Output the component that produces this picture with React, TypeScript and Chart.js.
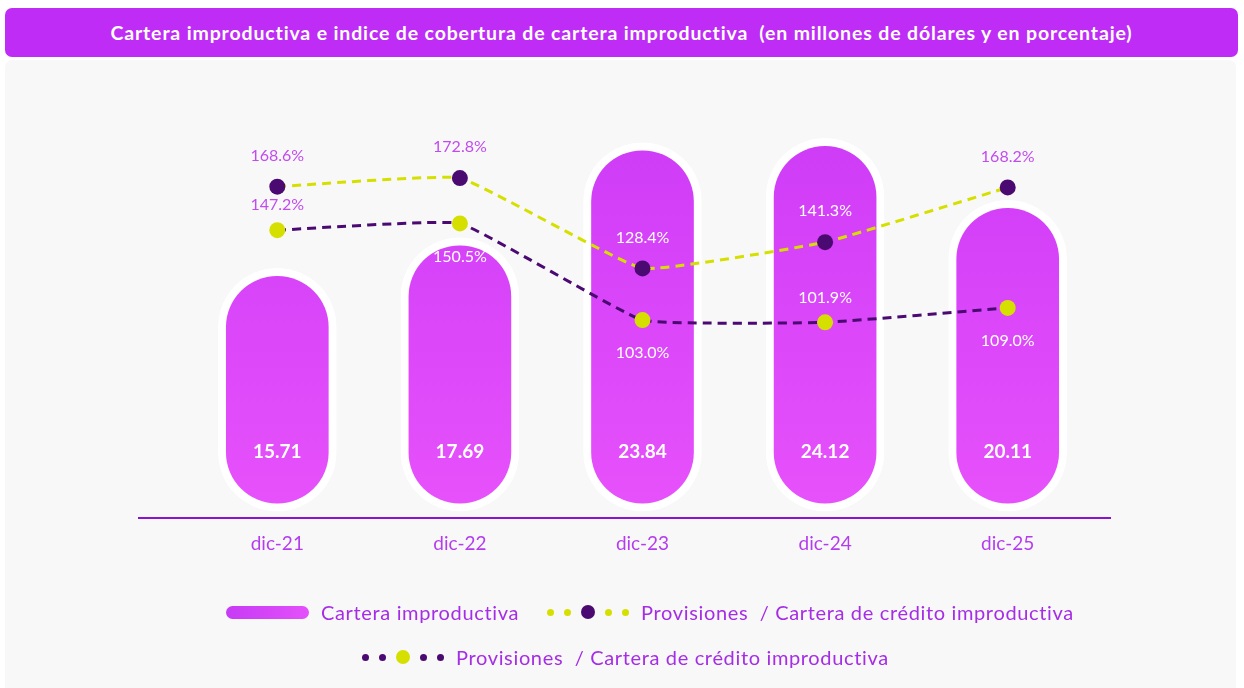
import React, { useEffect, useRef } from "react";
import { Chart, registerables } from "chart.js";

Chart.register(...registerables);

const title =
  "Cartera improductiva e indice de cobertura de cartera improductiva  (en millones de dólares y en porcentaje)";
const categories = ["dic-21", "dic-22", "dic-23", "dic-24", "dic-25"];
const carteraImproductiva = [15.71, 17.69, 23.84, 24.12, 20.11];
const coberturaA = [168.6, 172.8, 128.4, 141.3, 168.2];
const coberturaB = [147.2, 150.5, 103.0, 101.9, 109.0];
const labelPosA = ["top", "top", "top", "top", "top"];
const labelPosB = ["top", "bottom", "bottom", "top", "bottom"];
const seriesNames = [
  "Cartera improductiva",
  "Provisiones  / Cartera de crédito improductiva",
  "Provisiones  / Cartera de crédito improductiva",
];

const DARK = "#4A0A72";
const LIME = "#D6E000";
const LABEL_PURPLE = "#C24BEF";
const AXIS_PURPLE = "#8B12CF";
const TEXT_PURPLE = "#A52DE6";
const FONT = "Lato, 'Open Sans', sans-serif";

const labelPlugin = {
  id: "customLabels",
  beforeDatasetsDraw(chart: any) {
    const { ctx, chartArea } = chart;
    ctx.save();
    ctx.strokeStyle = AXIS_PURPLE;
    ctx.lineWidth = 2;
    ctx.beginPath();
    ctx.moveTo(chartArea.left - 48, chartArea.bottom);
    ctx.lineTo(chartArea.right + 12, chartArea.bottom);
    ctx.stroke();
    ctx.restore();
  },
  afterDatasetsDraw(chart: any) {
    const c = chart.ctx;
    const barMeta = chart.getDatasetMeta(0);
    c.save();
    c.textAlign = "center";
    c.textBaseline = "middle";
    c.font = `bold 19px ${FONT}`;
    c.fillStyle = "#ffffff";
    barMeta.data.forEach((bar: any, i: number) => {
      c.fillText(carteraImproductiva[i].toFixed(2), bar.x, bar.base - 59);
    });
    c.font = `16px ${FONT}`;
    const series = [
      { di: 1, vals: coberturaA, pos: labelPosA, up: -31, down: 31 },
      { di: 2, vals: coberturaB, pos: labelPosB, up: -25, down: 33 },
    ];
    series.forEach((s) => {
      const meta = chart.getDatasetMeta(s.di);
      meta.data.forEach((pt: any, i: number) => {
        const y = pt.y + (s.pos[i] === "top" ? s.up : s.down);
        const bar = barMeta.data[i];
        const innerTop = bar.y + 8;
        c.fillStyle = y > innerTop + 4 ? "#ffffff" : LABEL_PURPLE;
        c.fillText(s.vals[i].toFixed(1) + "%", pt.x, y);
      });
    });
    c.restore();
  },
};

function Dot({ r, color }: { r: number; color: string }) {
  return (
    <span
      style={{
        display: "inline-block",
        width: r * 2,
        height: r * 2,
        borderRadius: "50%",
        background: color,
      }}
    />
  );
}

export default function App() {
  const canvasRef = useRef<HTMLCanvasElement | null>(null);

  useEffect(() => {
    const canvas = canvasRef.current;
    if (!canvas) return;
    const chart = new Chart(canvas, {
      type: "bar",
      data: {
        labels: categories,
        datasets: [
          {
            type: "bar",
            label: seriesNames[0],
            data: carteraImproductiva,
            yAxisID: "y",
            order: 3,
            barThickness: 118,
            borderWidth: 8,
            borderColor: "#ffffff",
            borderRadius: 59,
            borderSkipped: false,
            backgroundColor: (ctx: any) => {
              const { chart } = ctx;
              const area = chart.chartArea;
              if (!area) return "#D845F9";
              const g = chart.ctx.createLinearGradient(0, area.top + 60, 0, area.bottom);
              g.addColorStop(0, "#CF3CF7");
              g.addColorStop(1, "#E752FB");
              return g;
            },
          } as any,
          {
            type: "line",
            label: seriesNames[1],
            data: coberturaA,
            yAxisID: "y1",
            order: 1,
            borderColor: LIME,
            borderWidth: 3,
            borderDash: [9, 6],
            tension: 0.1,
            pointRadius: 8,
            pointBorderWidth: 0,
            pointBackgroundColor: DARK,
            pointBorderColor: DARK,
            fill: false,
          } as any,
          {
            type: "line",
            label: seriesNames[2],
            data: coberturaB,
            yAxisID: "y1",
            order: 2,
            borderColor: DARK,
            borderWidth: 3,
            borderDash: [9, 6],
            tension: 0.1,
            pointRadius: 8,
            pointBorderWidth: 0,
            pointBackgroundColor: LIME,
            pointBorderColor: LIME,
            fill: false,
          } as any,
        ],
      },
      options: {
        responsive: false,
        maintainAspectRatio: false,
        animation: false,
        layout: { padding: { left: 186, right: 145, top: 80, bottom: 120 } },
        plugins: {
          legend: { display: false },
          title: { display: false },
          tooltip: { enabled: false },
        },
        scales: {
          x: {
            offset: true,
            grid: { display: false, drawTicks: false },
            border: { display: false },
            ticks: {
              color: "#B43CEF",
              padding: 14,
              font: { family: FONT, size: 19 },
            },
            afterFit: (scale: any) => {
              scale.height = 50;
            },
          },
          y: {
            display: false,
            min: -0.45,
            max: 27.9,
          },
          y1: {
            display: false,
            min: 5.75,
            max: 221,
          },
        },
      } as any,
      plugins: [labelPlugin],
    });
    return () => chart.destroy();
  }, []);

  const legendText: React.CSSProperties = {
    fontFamily: FONT,
    fontSize: 20,
    letterSpacing: 0.65,
    color: TEXT_PURPLE,
    whiteSpace: "pre",
    lineHeight: "22px",
  };

  return (
    <div
      style={{
        position: "fixed",
        left: 0,
        top: 0,
        width: 1244,
        height: 688,
        background: "#ffffff",
        overflow: "hidden",
      }}
    >
      <div
        style={{
          position: "absolute",
          left: 5,
          top: 8,
          width: 1233,
          height: 49,
          background: "#BE2CF6",
          borderRadius: 7,
          display: "flex",
          alignItems: "center",
          justifyContent: "center",
          color: "#ffffff",
          fontFamily: FONT,
          fontWeight: 700,
          fontSize: 19.5,
          letterSpacing: 0.85,
          whiteSpace: "pre",
        }}
      >
        {title}
      </div>
      <div
        style={{
          position: "absolute",
          left: 5,
          top: 60,
          width: 1231,
          height: 640,
          background: "#F8F8F8",
          borderRadius: 7,
        }}
      />
      <canvas
        ref={canvasRef}
        width={1244}
        height={688}
        style={{ position: "absolute", left: 0, top: 0, width: 1244, height: 688 }}
      />
      <div
        style={{
          position: "absolute",
          left: 226,
          top: 601,
          height: 22,
          display: "flex",
          alignItems: "center",
        }}
      >
        <span
          style={{
            display: "inline-block",
            width: 83,
            height: 13,
            borderRadius: 7,
            background: "linear-gradient(90deg, #C63BF5, #E450FA)",
            marginRight: 12,
          }}
        />
        <span style={legendText}>{seriesNames[0]}</span>
        <span style={{ display: "inline-flex", alignItems: "center", gap: 10, marginLeft: 28, marginRight: 12 }}>
          <Dot r={3.5} color={LIME} />
          <Dot r={3.5} color={LIME} />
          <Dot r={7} color={DARK} />
          <Dot r={3.5} color={LIME} />
          <Dot r={3.5} color={LIME} />
        </span>
        <span style={legendText}>{seriesNames[1]}</span>
      </div>
      <div
        style={{
          position: "absolute",
          left: 362,
          top: 646,
          height: 22,
          display: "flex",
          alignItems: "center",
        }}
      >
        <span style={{ display: "inline-flex", alignItems: "center", gap: 10, marginRight: 12 }}>
          <Dot r={3.5} color={DARK} />
          <Dot r={3.5} color={DARK} />
          <Dot r={7} color={LIME} />
          <Dot r={3.5} color={DARK} />
          <Dot r={3.5} color={DARK} />
        </span>
        <span style={legendText}>{seriesNames[2]}</span>
      </div>
    </div>
  );
}
